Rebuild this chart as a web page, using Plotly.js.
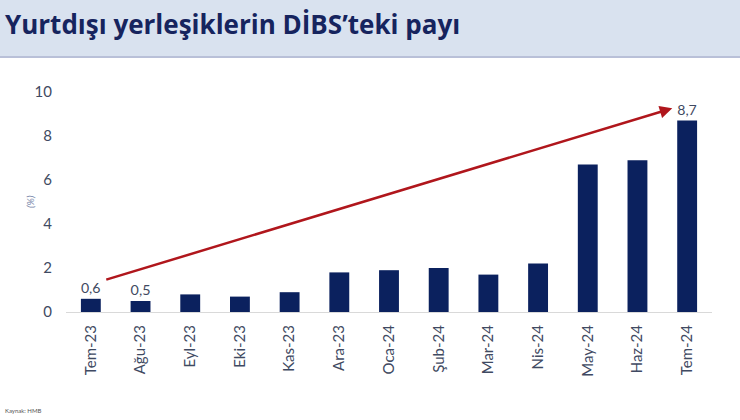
<!DOCTYPE html>
<html>
<head>
<meta charset="utf-8">
<script src="https://cdn.plot.ly/plotly-3.0.1.min.js"></script>
<style>
  body { margin: 0; background: #fff; }
  #plot { width: 740px; height: 420px; }
</style>
</head>
<body>
<div id="plot"></div>
<script>
// months and share of non-residents in government bonds (%)
var months = ['Tem-23', 'Ağu-23', 'Eyl-23', 'Eki-23', 'Kas-23', 'Ara-23', 'Oca-24',
  'Şub-24', 'Mar-24', 'Nis-24', 'May-24', 'Haz-24', 'Tem-24'];
var share = [0.6, 0.5, 0.8, 0.7, 0.9, 1.8, 1.9, 2.0, 1.7, 2.2, 6.7, 6.9, 8.7];
// only some bars carry a value label
var labelled = [true, true, false, false, false, false, false, false, false, false, false, false, true];
var yTicks = [0, 2, 4, 6, 8, 10];

// trend arrow (category index, value)
var arrowFrom = [0.28, 1.45];
var arrowTo = [11.7, 9.26];

var labels = [];
for (let i = 0; i < share.length; i++) {
  labels.push(labelled[i] ? share[i].toFixed(1).replace('.', ',') : '');
}

var navy = '#0b215e';
var textCol = '#3f4a62';

var trace = {
  x: months,
  y: share,
  type: 'bar',
  width: 0.4,
  marker: { color: navy },
  text: labels,
  textposition: 'outside',
  cliponaxis: false,
  textfont: { family: 'Lato, sans-serif', size: 15, color: textCol },
  hoverinfo: 'none'
};

// plot area in pixels: 66..712 x, 92..312 y
var L = 66, T = 92, W = 646, H = 220;
function px(x) { return (x - L) / W; }
function py(y) { return (T + H - y) / H; }

var layout = {
  width: 740,
  height: 420,
  margin: { l: L, r: 740 - L - W, t: T, b: 420 - T - H, pad: 0 },
  paper_bgcolor: '#ffffff',
  plot_bgcolor: '#ffffff',
  separators: ',.',
  showlegend: false,
  font: { family: 'Lato, sans-serif', color: textCol },
  title: {
    text: '<b>Yurtdışı yerleşiklerin DİBS’teki payı</b>',
    font: { family: '"Open Sans", sans-serif', size: 26, color: '#16245e' },
    x: 5 / 740, xanchor: 'left', xref: 'container',
    y: 1 - 25 / 420, yanchor: 'middle', yref: 'container'
  },
  xaxis: {
    type: 'category',
    range: [-0.5, 12.5],
    tickangle: -90,
    ticks: '',
    showgrid: false,
    showline: true,
    linecolor: '#d9d9d9',
    linewidth: 1,
    ticklabelstandoff: 6,
    tickfont: { size: 15, color: textCol }
  },
  yaxis: {
    range: [0, 10],
    tickvals: yTicks,
    ticktext: yTicks.map(String),
    showgrid: false,
    zeroline: false,
    showline: false,
    ticks: '',
    ticklabelstandoff: 13,
    tickfont: { size: 15, color: textCol }
  },
  shapes: [
    { type: 'rect', xref: 'paper', yref: 'paper', layer: 'below',
      x0: px(0), x1: px(740), y0: py(57), y1: py(0),
      fillcolor: '#d9e2ef', line: { width: 0 } },
    { type: 'line', xref: 'paper', yref: 'paper',
      x0: px(0), x1: px(740), y0: py(57), y1: py(57),
      line: { color: '#b9c0d8', width: 2 } }
  ],
  annotations: [
    { x: arrowTo[0], y: arrowTo[1], ax: arrowFrom[0], ay: arrowFrom[1],
      xref: 'x', yref: 'y', axref: 'x', ayref: 'y',
      text: '', showarrow: true, arrowhead: 2, arrowsize: 1,
      arrowwidth: 2.5, arrowcolor: '#b0161c' },
    { x: px(22), y: py(202), xref: 'paper', yref: 'paper', text: '(%)',
      showarrow: false, textangle: -90,
      font: { size: 10, color: '#7482a6', style: 'italic' } },
    { x: px(3), y: py(410), xref: 'paper', yref: 'paper', text: 'Kaynak: HMB',
      showarrow: false, xanchor: 'left', yanchor: 'middle',
      font: { size: 6, color: '#555' } }
  ]
};

Plotly.newPlot('plot', [trace], layout, { displayModeBar: false, staticPlot: true });
</script>
</body>
</html>
